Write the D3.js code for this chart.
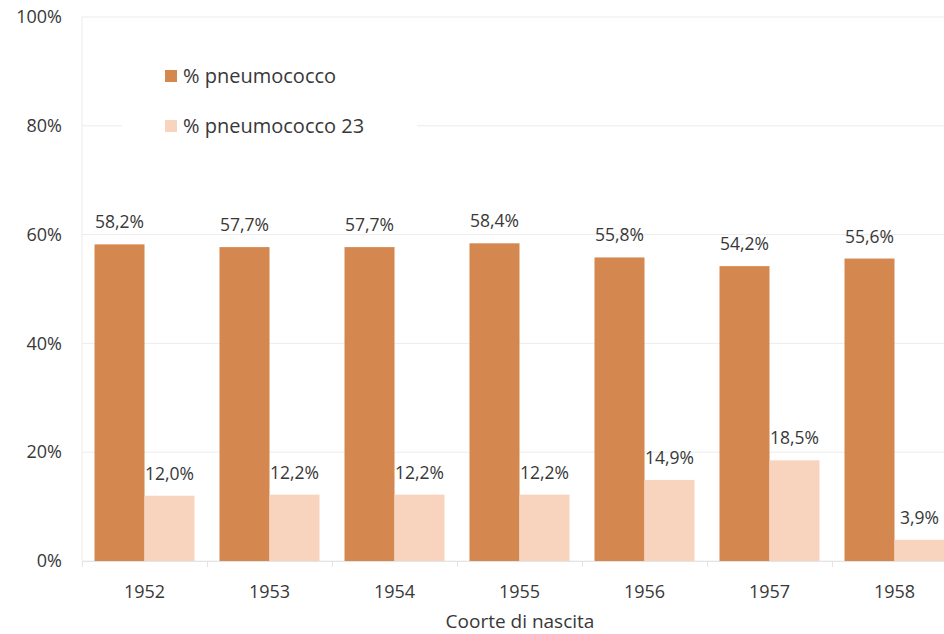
<!DOCTYPE html>
<html>
<head>
<meta charset="utf-8">
<script src="https://cdn.jsdelivr.net/npm/d3@7"></script>
<style>
  body { margin: 0; background: #fff; }
  text { font-family: "Open Sans", "Liberation Sans", sans-serif; fill: #383838; }
</style>
</head>
<body>
<div id="chart"></div>
<script>
// data
var years = ["1952", "1953", "1954", "1955", "1956", "1957", "1958"];
var pneumo = [58.2, 57.7, 57.7, 58.4, 55.8, 54.2, 55.6];
var pneumo23 = [12.0, 12.2, 12.2, 12.2, 14.9, 18.5, 3.9];
var seriesNames = ["% pneumococco", "% pneumococco 23"];
var yTicks = [0, 20, 40, 60, 80, 100];

var colors = ["#D4874F", "#F8D4BE"];

var W = 944, H = 634;
var margin = {top: 17, right: -13, bottom: 73, left: 82},
    width = W - margin.left - margin.right,
    height = H - margin.top - margin.bottom;

var svg = d3.select("#chart")
  .append("svg")
    .attr("width", W)
    .attr("height", H)
  .append("g")
    .attr("transform", "translate(" + margin.left + "," + margin.top + ")");

// category positions
var x = d3.scaleBand()
  .domain(years)
  .range([0, width])
  .paddingInner(0.2)
  .paddingOuter(0.1);

var xs = d3.scaleBand()
  .domain([0, 1])
  .range([0, x.bandwidth()]);

var y = d3.scaleLinear()
  .domain([0, 100])
  .range([height, 0]);

// gridlines
svg.append("g")
  .selectAll("line")
  .data(yTicks)
  .enter()
  .append("line")
    .attr("x1", 0)
    .attr("x2", width)
    .attr("y1", function(d) { return y(d); })
    .attr("y2", function(d) { return y(d); })
    .attr("stroke", "#ececec")
    .attr("stroke-width", 1);

// left axis line
svg.append("line")
  .attr("x1", 0).attr("x2", 0)
  .attr("y1", 0).attr("y2", height)
  .attr("stroke", "#ececec");

// y axis labels
var yAxis = svg.append("g")
  .call(d3.axisLeft(y).tickValues(yTicks).tickFormat(function(d) { return d + "%"; }).tickSize(0).tickPadding(20));
yAxis.select(".domain").remove();
yAxis.selectAll("text").style("font-size", "18px");

// x axis
var xAxis = svg.append("g")
  .attr("transform", "translate(0," + height + ")")
  .call(d3.axisBottom(d3.scaleLinear().domain([0, years.length]).range([0, width]))
    .tickValues(d3.range(years.length + 1)).tickSize(6).tickFormat(""));
xAxis.selectAll("line").attr("stroke", "#e4e4e4");
xAxis.select(".domain").attr("stroke", "#e4e4e4");

svg.append("g")
  .attr("transform", "translate(0," + height + ")")
  .selectAll("text")
  .data(years)
  .enter()
  .append("text")
    .attr("x", function(d) { return x(d) + x.bandwidth() / 2; })
    .attr("y", 37)
    .attr("text-anchor", "middle")
    .style("font-size", "18px")
    .text(function(d) { return d; });

var series = [pneumo, pneumo23];

series.forEach(function(vals, s) {
  var g = svg.append("g");
  g.selectAll("rect")
    .data(vals)
    .enter()
    .append("rect")
      .attr("x", function(d, i) { return x(years[i]) + xs(s); })
      .attr("y", function(d) { return y(d); })
      .attr("width", xs.bandwidth())
      .attr("height", function(d) { return height - y(d); })
      .attr("fill", colors[s]);
  g.selectAll("text")
    .data(vals)
    .enter()
    .append("text")
      .attr("x", function(d, i) { return x(years[i]) + xs(s) + xs.bandwidth() / 2; })
      .attr("y", function(d) { return y(d) - 16; })
      .attr("text-anchor", "middle")
      .style("font-size", "17.5px")
      .text(function(d) { return d3.format(".1f")(d).replace(".", ",") + "%"; });
});

// legend
var legend = svg.append("g")
  .attr("transform", "translate(40,40)");
legend.append("rect")
  .attr("x", 0).attr("y", 0)
  .attr("width", 295).attr("height", 95)
  .attr("fill", "#fff");
seriesNames.forEach(function(name, i) {
  legend.append("rect")
    .attr("x", 43).attr("y", 13 + i * 50)
    .attr("width", 12).attr("height", 12)
    .attr("fill", colors[i]);
  legend.append("text")
    .attr("x", 61).attr("y", 26 + i * 50)
    .style("font-size", "20px")
    .text(name);
});

// x title
svg.append("text")
  .attr("x", 438)
  .attr("y", height + 67)
  .attr("text-anchor", "middle")
  .style("font-size", "19px")
  .text("Coorte di nascita");
</script>
</body>
</html>
